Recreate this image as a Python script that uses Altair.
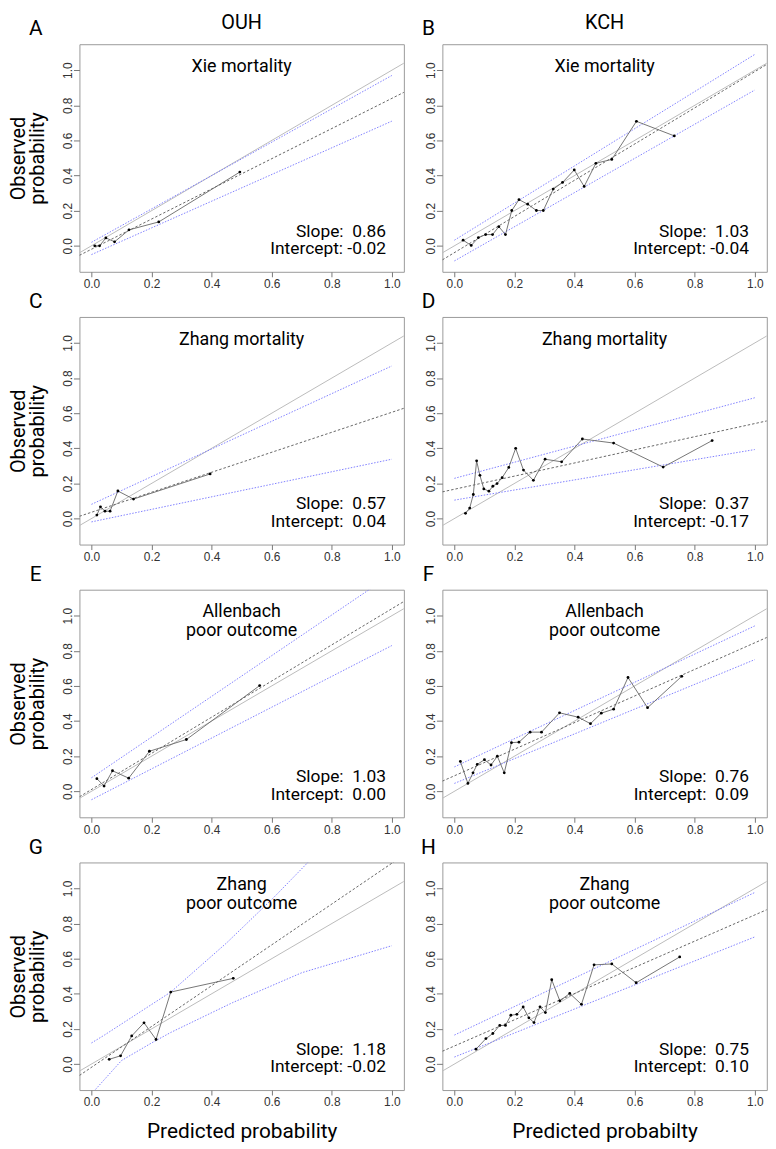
import altair as alt
import pandas as pd

# ---------------- data ----------------
letters = ["A", "B", "C", "D", "E", "F", "G", "H"]
col_titles = ["OUH", "KCH"]
x_titles = ["Predicted probability", "Predicted probabilty"]
y_title = ["Observed", "probability"]
panel_titles = ["Xie mortality", "Xie mortality", "Zhang mortality", "Zhang mortality",
                "Allenbach\npoor outcome", "Allenbach\npoor outcome",
                "Zhang\npoor outcome", "Zhang\npoor outcome"]
slopes = ["0.86", "1.03", "0.57", "0.37", "1.03", "0.76", "1.18", "0.75"]
intercepts = ["-0.02", "-0.04", "0.04", "-0.17", "0.00", "0.09", "-0.02", "0.10"]

ticks = [0.0, 0.2, 0.4, 0.6, 0.8, 1.0]
x_domain = [-0.04, 1.04]
y_domain = [-0.148, 1.148]

# observed vs predicted (grouped points)
A_pred = [0.011, 0.027, 0.048, 0.077, 0.125, 0.224, 0.494]
A_obs = [0.0, 0.0, 0.045, 0.023, 0.091, 0.136, 0.42]
B_pred = [0.029, 0.056, 0.080, 0.104, 0.127, 0.148, 0.170, 0.191, 0.215, 0.244,
          0.273, 0.296, 0.329, 0.360, 0.399, 0.432, 0.471, 0.524, 0.606, 0.732]
B_obs = [0.032, 0.002, 0.047, 0.064, 0.064, 0.109, 0.064, 0.201, 0.263, 0.237,
         0.201, 0.201, 0.323, 0.361, 0.432, 0.338, 0.470, 0.492, 0.709, 0.626]
C_pred = [0.018, 0.030, 0.045, 0.062, 0.088, 0.140, 0.395]
C_obs = [0.020, 0.067, 0.042, 0.042, 0.157, 0.111, 0.254]
D_pred = [0.037, 0.051, 0.063, 0.074, 0.085, 0.098, 0.115, 0.128, 0.142, 0.159,
          0.181, 0.204, 0.230, 0.263, 0.302, 0.357, 0.426, 0.530, 0.695, 0.858]
D_obs = [0.030, 0.060, 0.137, 0.329, 0.246, 0.169, 0.156, 0.184, 0.199, 0.233,
         0.291, 0.400, 0.276, 0.218, 0.338, 0.323, 0.453, 0.430, 0.293, 0.444]
E_pred = [0.018, 0.042, 0.070, 0.124, 0.193, 0.316, 0.560]
E_obs = [0.072, 0.030, 0.117, 0.075, 0.228, 0.295, 0.602]
F_pred = [0.020, 0.045, 0.062, 0.076, 0.100, 0.122, 0.143, 0.166, 0.190, 0.215,
          0.252, 0.290, 0.350, 0.412, 0.453, 0.489, 0.530, 0.578, 0.643, 0.757]
F_obs = [0.170, 0.045, 0.105, 0.153, 0.180, 0.150, 0.200, 0.105, 0.277, 0.280,
         0.337, 0.337, 0.447, 0.422, 0.385, 0.445, 0.468, 0.648, 0.476, 0.655]
G_pred = [0.059, 0.097, 0.134, 0.175, 0.215, 0.264, 0.472]
G_obs = [0.027, 0.047, 0.160, 0.235, 0.140, 0.410, 0.488]
H_pred = [0.072, 0.105, 0.128, 0.151, 0.170, 0.188, 0.208, 0.229, 0.248, 0.265,
          0.285, 0.303, 0.324, 0.351, 0.384, 0.423, 0.465, 0.524, 0.605, 0.750]
H_obs = [0.085, 0.145, 0.174, 0.220, 0.220, 0.278, 0.283, 0.325, 0.263, 0.236,
         0.326, 0.293, 0.480, 0.360, 0.402, 0.340, 0.565, 0.570, 0.463, 0.610]

# fitted calibration line: value at the left and right end of the x domain
fit_A = [-0.054, 0.874]
fit_B = [-0.080, 1.033]
fit_C = [0.013, 0.628]
fit_D = [0.152, 0.556]
fit_E = [-0.031, 1.081]
fit_F = [0.058, 0.876]
fit_G = [-0.065, 1.190]
fit_H = [0.073, 0.879]

# confidence band (blue dotted)
band_x = [0.0, 1.0]
A_upper = [0.02, 0.97]
A_lower = [-0.05, 0.71]
B_upper = [0.032, 1.09]
B_lower = [-0.086, 0.887]
C_upper = [0.081, 0.869]
C_lower = [-0.019, 0.338]
D_upper = [0.229, 0.688]
D_lower = [0.105, 0.393]
E_upper = [0.077, 1.236]
E_lower = [-0.048, 0.83]
F_upper = [0.139, 0.942]
F_lower = [0.045, 0.75]
H_upper = [0.165, 0.977]
H_lower = [0.04, 0.724]
G_upper_x = [0.0, 0.044, 0.264, 0.45, 0.606, 0.75]
G_upper = [0.12, 0.166, 0.41, 0.69, 0.947, 1.2]
G_lower_x = [0.0, 0.1, 0.2, 0.264, 0.47, 0.7, 1.0]
G_lower = [-0.17, 0.02, 0.12, 0.18, 0.35, 0.52, 0.674]

preds = [A_pred, B_pred, C_pred, D_pred, E_pred, F_pred, G_pred, H_pred]
obss = [A_obs, B_obs, C_obs, D_obs, E_obs, F_obs, G_obs, H_obs]
fits = [fit_A, fit_B, fit_C, fit_D, fit_E, fit_F, fit_G, fit_H]
uppers = [(band_x, A_upper), (band_x, B_upper), (band_x, C_upper), (band_x, D_upper),
          (band_x, E_upper), (band_x, F_upper), (G_upper_x, G_upper), (band_x, H_upper)]
lowers = [(band_x, A_lower), (band_x, B_lower), (band_x, C_lower), (band_x, D_lower),
          (band_x, E_lower), (band_x, F_lower), (G_lower_x, G_lower), (band_x, H_lower)]

# ---------------- layout / style ----------------
W, H = 327, 229.4
XS = alt.Scale(domain=x_domain, nice=False, zero=False)
YS = alt.Scale(domain=y_domain, nice=False, zero=False)
NB = "\u00a0"


def text_layer(txt, x, y, size, align="center", lh=None):
    mk = dict(font="Roboto", fontSize=size, align=align, baseline="middle",
              color="black", lineBreak="\n")
    if lh:
        mk["lineHeight"] = lh
    return alt.Chart(pd.DataFrame({"t": [txt]})).mark_text(**mk).encode(
        text="t:N", x=alt.value(x), y=alt.value(y))


def lbl(name, val):
    sep = " " if val.startswith("-") else NB + " "
    return f"{name}:{sep}{val}"


def make_panel(i):
    col, row = i % 2, i // 2
    xa = alt.Axis(values=ticks, format=".1f",
                  title=x_titles[col] if row == 3 else None,
                  tickSize=5, labelPadding=2, labelFlush=False, labelOverlap=False,
                  minExtent=14, maxExtent=14, titlePadding=17)
    ya = alt.Axis(values=ticks, format=".1f",
                  title=y_title if col == 0 else None,
                  labelAngle=270, labelAlign="center", labelBaseline="alphabetic",
                  tickSize=6, labelPadding=1.5, labelFlush=False, labelOverlap=False,
                  minExtent=15, maxExtent=15, titlePadding=17, titleAngle=270,
                  titleBaseline="bottom", titleLineHeight=19, titleFontSize=20)

    def enc(ch):
        return ch.encode(x=alt.X("x:Q", scale=XS, axis=xa),
                         y=alt.Y("y:Q", scale=YS, axis=ya))

    diag = enc(alt.Chart(pd.DataFrame({"x": x_domain, "y": x_domain}))
               .mark_line(color="#bbbbbb", strokeWidth=1, clip=True))
    fit = enc(alt.Chart(pd.DataFrame({"x": x_domain, "y": fits[i]}))
              .mark_line(color="#555555", strokeWidth=0.9, strokeDash=[2.5, 2], clip=True))
    ux, uy = uppers[i]
    lx, ly = lowers[i]
    band = pd.DataFrame({"x": list(ux) + list(lx), "y": list(uy) + list(ly),
                         "b": ["upper"] * len(ux) + ["lower"] * len(lx)})
    ci = enc(alt.Chart(band).mark_line(color="#7373ff", strokeWidth=0.9,
                                        strokeDash=[1.5, 1.5], clip=True)).encode(detail="b:N")
    pts = pd.DataFrame({"x": preds[i], "y": obss[i]})
    pl = enc(alt.Chart(pts).mark_line(color="#666666", strokeWidth=0.9, clip=True))
    pp = enc(alt.Chart(pts).mark_circle(color="black", size=8, opacity=1, clip=True))

    layers = [diag, fit, ci, pl, pp,
              text_layer(panel_titles[i], W / 2, 23, 18, lh=19),
              text_layer(lbl("Slope", slopes[i]), 309, 189, 17.5, align="right"),
              text_layer(lbl("Intercept", intercepts[i]), 309, 206.5, 17.5, align="right"),
              text_layer(letters[i], -44 if col == 0 else -14, -15, 21)]
    if row == 0:
        layers.append(text_layer(col_titles[col], W / 2, -21, 20))
    return alt.layer(*layers).properties(width=W, height=H)


chart = (alt.concat(*[make_panel(i) for i in range(8)], columns=2,
                    spacing={"row": 44.9, "column": 38.8}, bounds="flush")
         .properties(padding={"left": 0, "top": 0, "right": 0, "bottom": 0},
                     background="white")
         .configure_view(stroke="#9a9a9a", strokeWidth=1)
         .configure_axis(grid=False, domain=False, labelFont="Liberation Sans",
                         labelFontSize=12, labelColor="#333333", tickColor="#777777",
                         tickWidth=1, titleFont="Roboto", titleFontSize=21,
                         titleFontWeight="normal", titleColor="black"))

chart.save("out.html", embed_options={"renderer": "svg", "actions": False})
